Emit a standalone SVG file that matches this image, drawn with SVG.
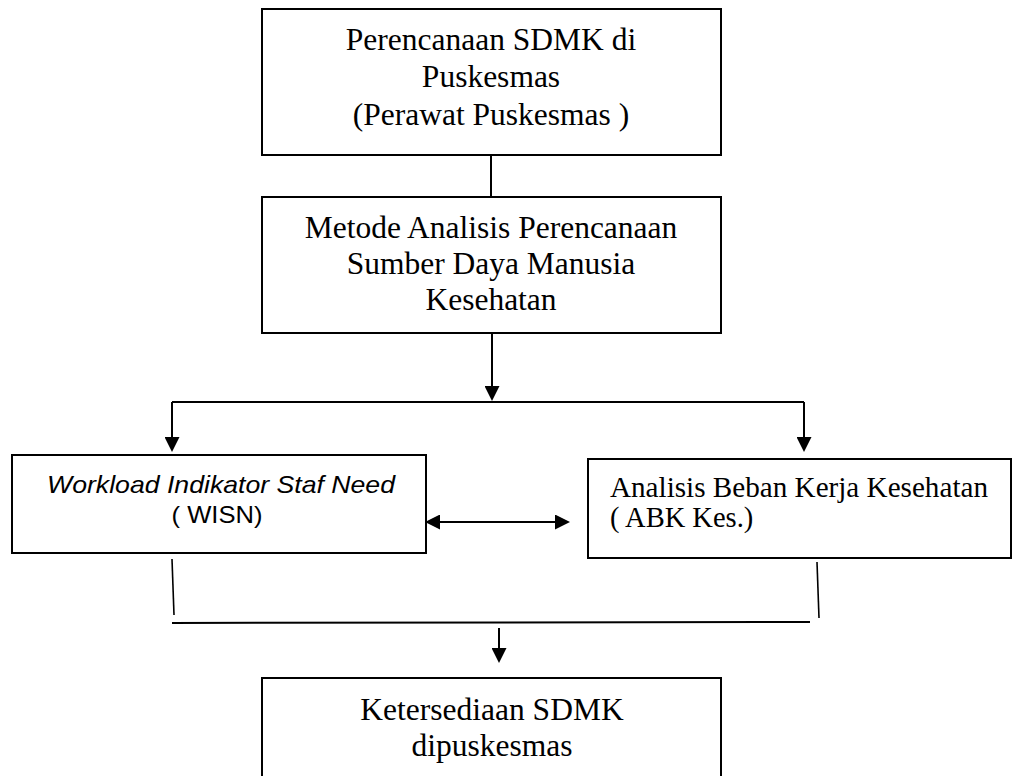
<svg xmlns="http://www.w3.org/2000/svg" width="1013" height="776" viewBox="0 0 1013 776">
<style>
.box{fill:#fff;stroke:#000;stroke-width:2}
.t{font-family:"Liberation Serif","Times New Roman",serif;font-size:31.5px;fill:#000;text-anchor:middle}
.tl{font-family:"Liberation Serif","Times New Roman",serif;font-size:28.5px;fill:#000}
.s{font-family:"Liberation Sans",Arial,sans-serif;font-size:24px;fill:#000;text-anchor:middle}
.c{fill:none;stroke:#000;stroke-width:2}
.thin{fill:none;stroke:#000;stroke-width:1.6}
</style>
<defs>
<marker id="ah" markerUnits="userSpaceOnUse" markerWidth="15" markerHeight="15" viewBox="0 0 15 15" refX="7" refY="7.5" orient="auto-start-reverse">
<path d="M0,0 L15,7.5 L0,15 z" fill="#000"/>
</marker>
</defs>
<rect width="1013" height="776" fill="#fff"/>
<g id="n1">
<rect class="box" x="262" y="9" width="459" height="146"/>
<text class="t" x="491" y="50">Perencanaan SDMK di</text>
<text class="t" x="491" y="87">Puskesmas</text>
<text class="t" x="491" y="125">(Perawat Puskesmas )</text>
</g>
<g id="n2">
<rect class="box" x="262" y="197" width="459" height="136"/>
<text class="t" x="491" y="238">Metode Analisis Perencanaan</text>
<text class="t" x="491" y="274">Sumber Daya Manusia</text>
<text class="t" x="491" y="310">Kesehatan</text>
</g>
<g id="n3">
<rect class="box" x="12" y="455" width="414" height="98"/>
<text class="s" x="221" y="493" font-style="italic" textLength="348" lengthAdjust="spacingAndGlyphs">Workload Indikator Staf Need</text>
<text class="s" x="217" y="523" textLength="91" lengthAdjust="spacingAndGlyphs">( WISN)</text>
</g>
<g id="n4">
<rect class="box" x="588" y="459" width="423" height="99"/>
<text class="tl" x="610" y="497" textLength="378" lengthAdjust="spacingAndGlyphs">Analisis Beban Kerja Kesehatan</text>
<text class="tl" x="610" y="527">( ABK Kes.)</text>
</g>
<g id="n5">
<rect class="box" x="262" y="678" width="459" height="120"/>
<text class="t" x="492" y="720">Ketersediaan SDMK</text>
<text class="t" x="492" y="756">dipuskesmas</text>
</g>
<g id="connectors">
<path class="c" d="M491,155 V197"/>
<path class="c" d="M492,333 V393" marker-end="url(#ah)"/>
<path class="c" d="M172,402 H804"/>
<path class="c" d="M172,402 V444" marker-end="url(#ah)"/>
<path class="c" d="M804,402 V444" marker-end="url(#ah)"/>
<path class="c" d="M433,522 H562" marker-start="url(#ah)" marker-end="url(#ah)"/>
<path class="thin" d="M172,559 L174,615"/>
<path class="thin" d="M817,562 L819,618"/>
<path class="c" d="M172,623 L810,622"/>
<path class="c" d="M499,628 V655" marker-end="url(#ah)"/>
</g>
</svg>
